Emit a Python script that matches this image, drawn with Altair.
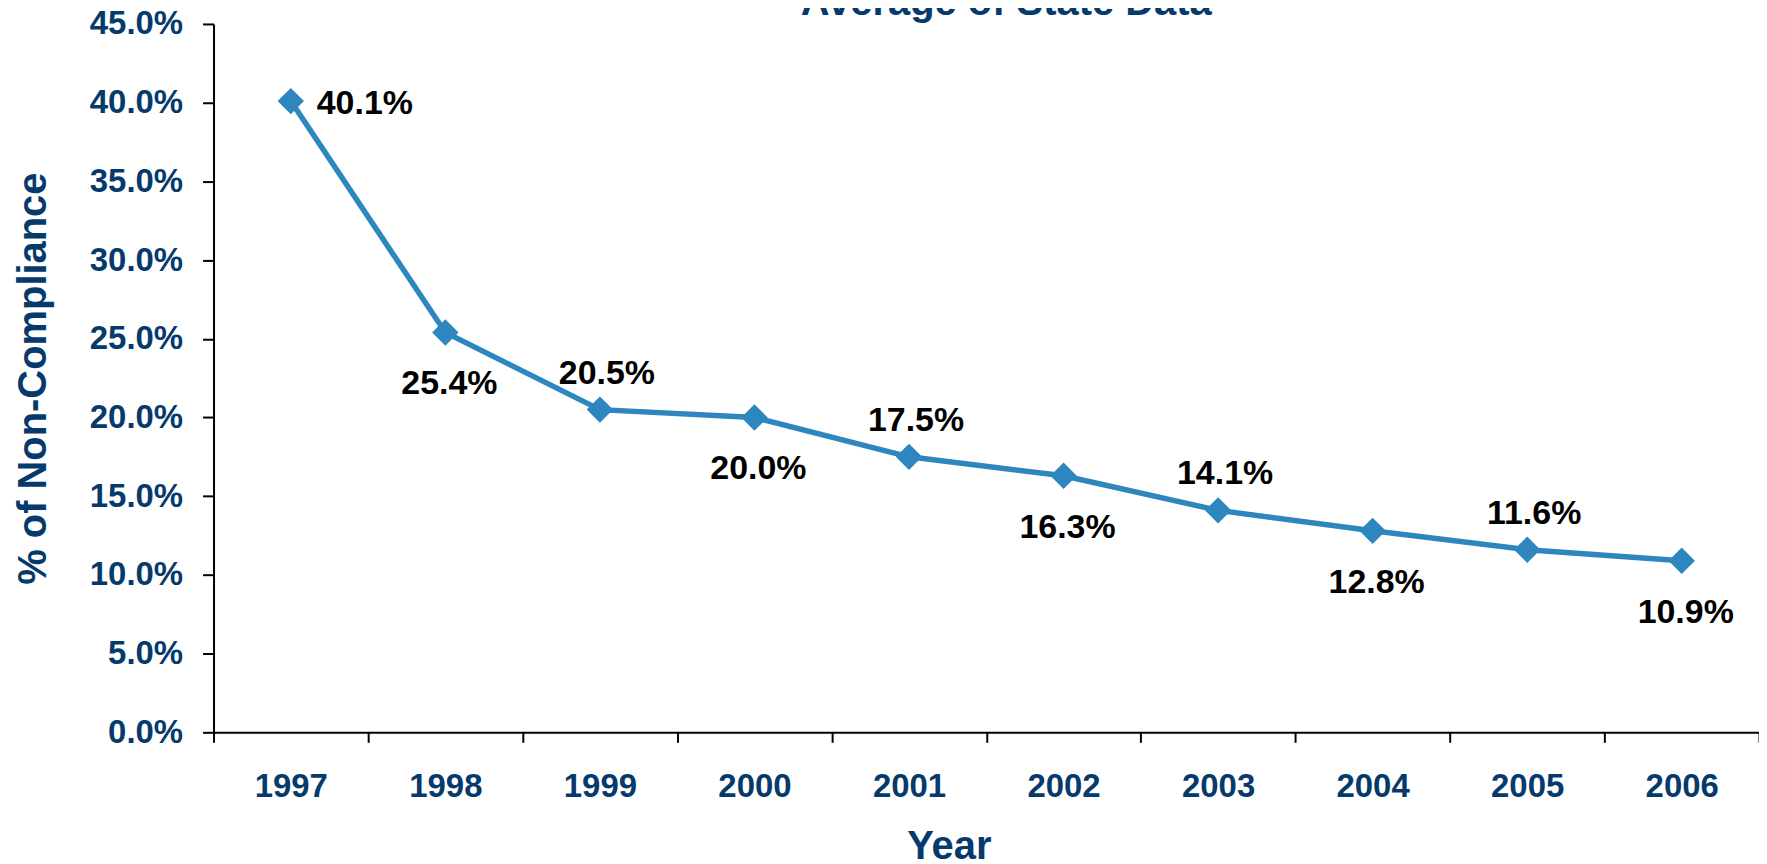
import altair as alt
import pandas as pd

# ---- data ----
years = [1997, 1998, 1999, 2000, 2001, 2002, 2003, 2004, 2005, 2006]
values = [0.401, 0.254, 0.205, 0.200, 0.175, 0.163, 0.141, 0.128, 0.116, 0.109]
y_ticks = [0.0, 0.05, 0.10, 0.15, 0.20, 0.25, 0.30, 0.35, 0.40, 0.45]
chart_title = "Average of State Data"
x_title = "Year"
y_title = "% of Non-Compliance"

df = pd.DataFrame({"year": [str(y) for y in years], "value": values, "idx": list(range(len(years)))})

NAVY = "#073a6c"
BLUE = "#2e86bf"
FONT = "Liberation Sans"
W, H = 1549, 710

x_enc = alt.X(
    "year:O",
    sort=None,
    scale=alt.Scale(type="band", paddingInner=0, paddingOuter=0),
    axis=alt.Axis(
        tickBand="extent",
        labelAngle=0,
        tickSize=10,
        labelPadding=28,
        labelFontSize=33,
        labelFont=FONT,
        labelFontWeight="bold",
        labelColor=NAVY,
        labelBaseline="top",
        labelOverlap=False,
        title=x_title,
        titleFont=FONT,
        titleFontSize=40,
        titleFontWeight="bold",
        titleColor=NAVY,
        titleBaseline="alphabetic",
        titleAlign="center",
        titleX=737,
        titleY=126,
    ),
)

y_enc = alt.Y(
    "value:Q",
    scale=alt.Scale(domain=[0, 0.45], nice=False, zero=True),
    axis=alt.Axis(
        values=y_ticks,
        format=".1%",
        tickSize=11,
        labelPadding=20,
        labelFontSize=33,
        labelFont=FONT,
        labelFontWeight="bold",
        labelColor=NAVY,
        labelOverlap=False,
        labelFlush=False,
        labelBound=False,
        title=y_title,
        titleFont=FONT,
        titleFontSize=40,
        titleFontWeight="bold",
        titleColor=NAVY,
        titleBaseline="alphabetic",
        titleAlign="center",
        titleX=-168,
        titleY=H / 2,
    ),
)

base = alt.Chart(df).encode(x=x_enc, y=y_enc)

line = base.mark_line(color=BLUE, strokeWidth=5.5)
pts = base.mark_point(shape="diamond", filled=True, size=700, color=BLUE, opacity=1)

text_style = dict(font=FONT, fontSize=34, fontWeight="bold", color="black", baseline="alphabetic")
label_text = alt.Text("value:Q", format=".1%")

lbl_right = base.transform_filter(alt.datum.idx == 0).mark_text(
    align="left", dx=26, dy=13, **text_style
).encode(text=label_text)

lbl_below = base.transform_filter(alt.datum.idx % 2 == 1).mark_text(
    align="center", dx=4, dy=62, **text_style
).encode(text=label_text)

lbl_above = base.transform_filter(
    (alt.datum.idx % 2 == 0) & (alt.datum.idx != 0)
).mark_text(align="center", dx=7, dy=-26, **text_style).encode(text=label_text)

chart = (
    alt.layer(line, pts, lbl_right, lbl_below, lbl_above)
    .properties(
        width=W,
        height=H,
        title=alt.TitleParams(
            chart_title,
            font=FONT,
            fontSize=40,
            fontWeight="bold",
            color=NAVY,
            anchor="middle",
            frame="group",
            baseline="alphabetic",
            offset=0,
            dx=20,
            dy=47,
        ),
        autosize=alt.AutoSizeParams(type="none"),
        padding={"left": 206, "top": 15, "right": 0, "bottom": 135},
        background="white",
    )
    .configure_view(stroke=None)
    .configure_axis(
        grid=False,
        domainColor="black",
        domainWidth=2,
        tickColor="black",
        tickWidth=2,
    )
)

chart.save("out.html", embed_options={"renderer": "svg", "actions": False})
